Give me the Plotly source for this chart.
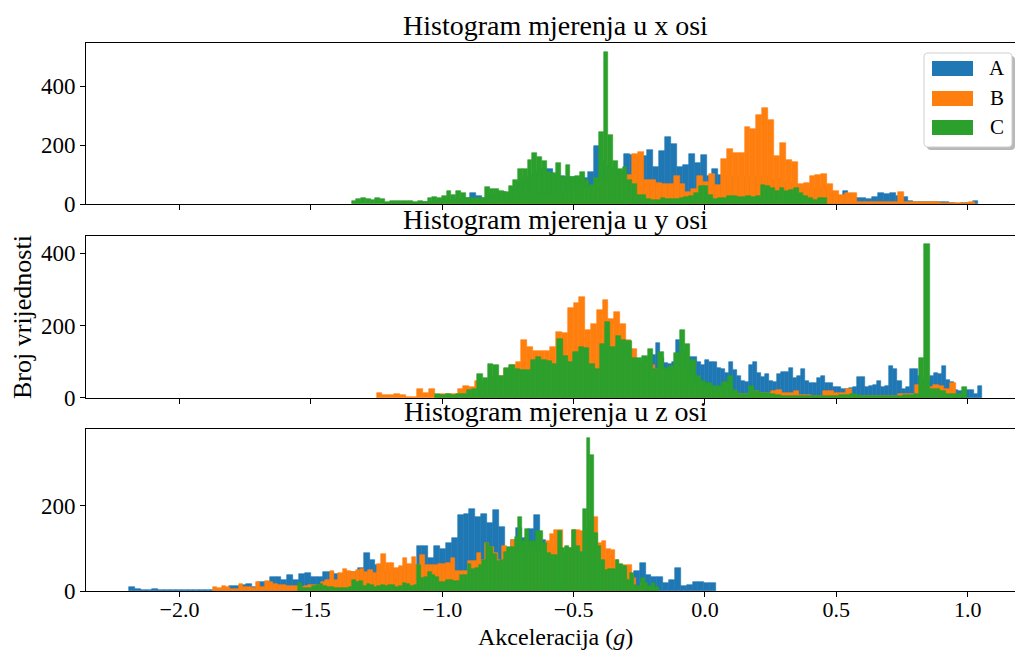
import numpy as np
import plotly.graph_objects as go
from plotly.subplots import make_subplots

# ---------------- data (histogram counts, 100 bins per series) ----------------
series_names = ["A", "B", "C"]
series_colors = ["#1f77b4", "#ff7f0e", "#2ca02c"]
titles = ["Histogram mjerenja u x osi", "Histogram mjerenja u y osi", "Histogram mjerenja u z osi"]

# X axis measurements: (first bin edge, last bin edge)
x_A_range = [-1.209, 1.041]
x_A_counts = [2, 3, 3, 4, 5, 5, 6, 8, 10, 12, 15, 18, 20, 20,
              38, 28,
              20, 35, 40, 40, 38, 55, 75, 90, 100, 110, 120, 120, 100, 95, 90, 90, 85, 88,
              110, 198, 150, 130, 115, 110, 171, 165, 160, 164, 184, 127, 181, 228, 205, 127,
              133, 171, 140, 167, 95, 120, 100,
              100, 95, 95, 90, 90, 95, 90,
              90, 80, 80, 75, 70, 65, 55, 50, 55, 55, 50, 40,
              28, 45, 35, 21, 19, 18, 25, 38, 35, 38, 28, 25, 9, 8, 8, 7, 7, 8, 7, 2, 1, 2, 4, 11]
x_B_range = [-1.222, 1.028]
x_B_counts = [2, 2, 3, 3, 3, 4, 4, 4, 5, 5, 5, 6, 6, 6, 7, 7, 8, 8, 9, 9, 10,
              12, 14, 16, 18, 20, 22, 25, 28, 30, 35, 40, 45, 50, 55,
              60, 70, 80, 90, 90, 100, 100,
              171, 177, 82, 80, 72, 68, 69, 96, 69, 42,
              50, 96, 76, 103, 66, 154, 188, 174, 174, 262,
              255, 303, 326, 285, 164, 208, 150, 143, 69, 72,
              96, 99, 103, 69, 45, 32, 38, 38, 8, 8,
              8, 8, 8, 8, 8, 42, 8, 7, 7, 7,
              7, 7, 2, 2, 2, 2, 3, 7]
x_C_range = [-1.345, 0.465]
x_C_counts = [11, 18, 22, 18, 15, 22, 17, 8, 11, 11, 11, 11, 11, 8, 11, 8, 22, 25, 22, 28,
              45, 32, 45, 38, 22, 22, 22, 22, 59, 52, 52, 45, 42, 62, 83, 120, 120, 150, 174, 160,
              147, 110, 106, 140,
              93, 133, 93, 96, 110, 82, 66, 89, 245, 516,
              235, 147, 120, 127, 82, 69, 32, 32, 18, 15,
              15, 21, 18, 18, 18, 21, 25, 28, 38, 62,
              62, 32, 18, 21, 21, 28, 28, 25, 25, 28,
              25, 28, 66,
              62, 55, 45, 55, 45, 49, 55, 38, 28, 21, 15, 21, 21]

# Y axis measurements
y_A_range = [-0.476, 1.054]
y_A_counts = [40, 45, 50, 55, 60, 60, 65, 70, 75, 80, 85, 90, 95, 95, 100, 100, 105, 110,
              120, 153, 110, 96, 95, 100, 159, 150, 130, 112,
              112, 98, 90, 106, 100, 100, 84, 81, 70, 98,
              76, 62, 48, 43, 90, 100, 68, 57, 65, 46,
              43, 65, 73, 73, 84, 54,
              60, 81, 46, 40, 40, 55, 62, 40, 40, 31,
              31, 25, 25, 28, 29, 59, 59, 31, 34, 37,
              48, 29, 34, 87, 81, 46, 26, 31, 79, 81,
              60, 50, 50, 60, 68, 65, 87, 51, 43, 21,
              18, 18, 21, 21, 12, 34]
y_B_range = [-1.250, 0.955]
y_B_counts = [15, 7, 7, 12, 7, 4, 4, 26, 15, 26, 8, 12, 10, 12, 26, 32, 29, 48, 40, 50,
              60, 60, 80, 92, 100, 161, 142, 131, 131, 131, 142, 183, 180, 247, 261, 280,
              189, 205, 244, 271, 219, 236, 205, 159, 136, 100,
              100, 90, 80, 75, 70, 70, 80, 80, 60, 40,
              30, 25, 20, 20, 25, 12, 10, 10, 12, 20,
              15, 13, 18, 23, 15, 15,
              20, 7, 7, 5, 5, 20, 20, 15, 15, 26,
              8, 5, 5, 5, 5, 5, 5, 6, 10, 10,
              10, 37, 30, 30, 37, 34, 26, 40]
y_C_range = [-1.028, 0.997]
y_C_counts = [12, 8, 10, 8, 10, 12, 23, 26, 65, 54, 95, 90, 62, 84, 90, 81, 76, 76, 106, 114,
              104, 101, 95, 164, 117, 98, 128, 142,
              139, 95, 81, 150, 211, 142, 172, 159, 156, 111,
              111, 117, 134, 81, 128, 84, 87, 125, 189, 148,
              104, 62, 48, 40, 32, 32, 43, 62, 23, 10,
              10, 34, 18, 15, 14, 10, 7, 6, 5,
              6, 5, 5, 5, 5, 5, 5, 6, 6, 7,
              8, 12, 8, 6, 6, 6, 6, 6, 6, 6,
              6, 7, 8, 10, 111, 424, 26, 26, 18, 12,
              12, 12, 31]

# Z axis measurements
z_A_range = [-2.193, 0.042]
z_A_counts = [9, 4, 2, 2, 4, 2, 2, 2, 2, 2, 2, 2, 2, 2, 3, 4, 5, 11, 11, 14,
              16, 10, 20, 20, 32, 32, 27, 37, 25, 39, 42, 34,
              32, 44, 44, 40, 40, 45, 45, 53, 89, 72,
              60, 50, 45, 50, 55, 60, 60, 107, 107, 77,
              107, 98, 114, 124, 178, 180, 194, 173, 180, 159,
              190, 150, 100, 119,
              147, 125, 145, 178, 120, 110, 100, 80, 75, 70,
              70, 60, 60, 50, 40, 40, 35, 35, 30, 30,
              46, 67, 37, 32, 34, 18, 27, 53, 11, 13,
              20, 20, 18, 18]
z_B_range = [-1.873, -0.228]
z_B_counts = [9, 6, 11, 9, 5, 5, 16, 9, 9, 6, 20, 9, 23, 20, 16, 13, 13, 11, 11, 11,
              9, 12, 14, 15,
              15, 20, 25, 46, 27, 42, 51, 46, 44, 49,
              51, 44, 49, 42, 63, 86, 67, 67, 53, 58,
              77, 63, 79, 60, 84, 60, 60, 60, 63, 63,
              67, 77, 46, 46, 48, 70, 70, 89, 74, 112,
              103, 89, 72, 107, 100, 119,
              90, 95, 95, 100, 95, 100, 110, 117, 133, 143,
              143, 90, 100, 143, 143, 140, 150, 170, 173, 112,
              117, 98, 96, 72, 56, 60, 60, 30, 8, 18]
z_C_range = [-1.549, -0.175]
z_C_counts = [18, 6, 6, 8, 11, 13, 16, 12, 9, 9, 6, 6, 6, 7, 9, 25, 20, 23, 11, 16,
              13, 9, 11, 13, 11, 13, 13, 9, 11, 18, 16, 11, 13, 60, 30, 34, 44, 37, 32, 20,
              20, 27, 25, 23, 23, 37, 37, 63, 51, 53, 60, 74, 112, 103, 86, 70, 72, 91, 103, 103,
              126, 173, 117, 145, 117, 117, 140, 140, 112, 89,
              84, 84, 140, 100, 107, 100, 143, 107, 91, 192,
              359, 321, 136, 105, 74, 49, 51, 51, 72, 63,
              58, 27, 42, 13, 11, 30, 18, 11, 18, 9]

x_ticks = [-2.0, -1.5, -1.0, -0.5, 0.0, 0.5, 1.0]
y_ticks = [0, 200, 400]
x_axis_range = [-2.356, 1.180]
y_axis_max = [546, 447, 381]

panels = [
    [(x_A_range, x_A_counts), (x_B_range, x_B_counts), (x_C_range, x_C_counts)],
    [(y_A_range, y_A_counts), (y_B_range, y_B_counts), (y_C_range, y_C_counts)],
    [(z_A_range, z_A_counts), (z_B_range, z_B_counts), (z_C_range, z_C_counts)],
]

# ---------------- figure ----------------
W, H = 1016, 650
ML, MR, MT, MB = 86, 1, 43, 59
PW, PH = W - ML - MR, H - MT - MB
FONT = "Liberation Serif, Times New Roman, DejaVu Serif, serif"


def px2paper(px, py):
    return (px - ML) / PW, (H - MB - py) / PH


fig = make_subplots(rows=3, cols=1, shared_xaxes=True)

for r, panel in enumerate(panels, start=1):
    for s, (rng, counts) in enumerate(panel):
        n = len(counts)
        w = (rng[1] - rng[0]) / n
        centers = rng[0] + w * (np.arange(n) + 0.5)
        fig.add_trace(
            go.Bar(
                x=centers, y=counts, width=w,
                name=series_names[s], legendgroup=series_names[s],
                showlegend=False,
                marker=dict(color=series_colors[s], line=dict(width=0.6, color=series_colors[s])),
                hoverinfo="x+y+name",
            ),
            row=r, col=1,
        )

domains = [[0.7062, 1.0], [0.3522, 0.6478], [0.0, 0.2956]]
for r in range(1, 4):
    fig.update_yaxes(
        row=r, col=1, domain=domains[r - 1], range=[0, y_axis_max[r - 1]],
        tickvals=y_ticks, ticks="outside", ticklen=5, tickwidth=1, tickcolor="black",
        showline=True, linecolor="black", linewidth=1, mirror=False,
        showgrid=False, zeroline=False, tickfont=dict(size=23), automargin=False,
    )
    fig.update_xaxes(
        row=r, col=1, range=x_axis_range, tickvals=x_ticks, tickformat=".1f",
        ticks="outside", ticklen=5, tickwidth=1, tickcolor="black",
        showline=True, linecolor="black", linewidth=1, mirror=True,
        showgrid=False, zeroline=False, showticklabels=(r == 3), tickfont=dict(size=22),
        ticklabelstandoff=-6, automargin=False,
    )

shapes = []
annotations = []

# subplot titles
title_py = [25, 219, 412]
for t, py in zip(titles, title_py):
    xx, yy = px2paper(555, py)
    annotations.append(dict(text=t, x=xx, y=yy, xref="paper", yref="paper",
                            showarrow=False, xanchor="center", yanchor="middle",
                            font=dict(size=28, family=FONT)))
# axis labels
xx, yy = px2paper(555, 637)
annotations.append(dict(text="Akceleracija (<i>g</i>)", x=xx, y=yy, xref="paper", yref="paper",
                        showarrow=False, xanchor="center", yanchor="middle", font=dict(size=24, family=FONT)))
xx, yy = px2paper(22, 317)
annotations.append(dict(text="Broj vrijednosti", x=xx, y=yy, xref="paper", yref="paper",
                        showarrow=False, xanchor="center", yanchor="middle", textangle=-90,
                        font=dict(size=26, family=FONT)))


# legend (drawn in the upper-right corner of the first panel, with shadow)
def rect(x0, y0, x1, y1, **kw):
    a0, b0 = px2paper(x0, y1)
    a1, b1 = px2paper(x1, y0)
    d = dict(type="rect", xref="paper", yref="paper", x0=a0, y0=b0, x1=a1, y1=b1, layer="above")
    d.update(kw)
    return d


def rounded(x0, y0, x1, y1, rad, **kw):
    def P(px, py):
        a, b = px2paper(px, py)
        return f"{a:.5f},{b:.5f}"
    path = (f"M {P(x0 + rad, y0)} L {P(x1 - rad, y0)} Q {P(x1, y0)} {P(x1, y0 + rad)} "
            f"L {P(x1, y1 - rad)} Q {P(x1, y1)} {P(x1 - rad, y1)} "
            f"L {P(x0 + rad, y1)} Q {P(x0, y1)} {P(x0, y1 - rad)} "
            f"L {P(x0, y0 + rad)} Q {P(x0, y0)} {P(x0 + rad, y0)} Z")
    d = dict(type="path", xref="paper", yref="paper", path=path, layer="above")
    d.update(kw)
    return d


shapes.append(rounded(927, 56, 1015, 150, 4, fillcolor="#b8b8b8", line=dict(width=0)))
shapes.append(rounded(924, 53, 1012, 147, 4, fillcolor="white", line=dict(color="#d0d0d0", width=1)))
legend_rows = [68.5, 98.5, 127.5]
for name, color, py in zip(series_names, series_colors, legend_rows):
    shapes.append(rect(932, py - 7.5, 973, py + 7.5, fillcolor=color, line=dict(width=0)))
    xx, yy = px2paper(997, py)
    annotations.append(dict(text=name, x=xx, y=yy, xref="paper", yref="paper", showarrow=False,
                            xanchor="center", yanchor="middle", font=dict(size=21, family=FONT)))

fig.update_layout(
    width=W, height=H,
    margin=dict(l=ML, r=MR, t=MT, b=MB, autoexpand=False),
    barmode="overlay", bargap=0,
    plot_bgcolor="white", paper_bgcolor="white",
    font=dict(family=FONT, size=23, color="black"),
    annotations=annotations, shapes=shapes,
    showlegend=False,
)

fig.write_html(
    "out.html",
    config={"displayModeBar": False},
    post_script="document.body.style.margin='0px';document.body.style.padding='0px';",
)
